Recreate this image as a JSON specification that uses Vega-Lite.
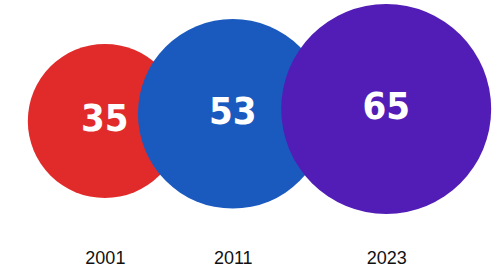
{
  "$schema": "https://vega.github.io/schema/vega-lite/v6.json",
  "width": 500,
  "height": 245,
  "autosize": {"type": "none"},
  "padding": {"top": 0, "left": 0, "right": 0, "bottom": 30},
  "background": "white",
  "config": {"view": {"stroke": null}},
  "data": {"values": [
    {"year": 2001, "value": 35, "color": "red"},
    {"year": 2011, "value": 53, "color": "blue"},
    {"year": 2023, "value": 65, "color": "purple"}
  ]},
  "encoding": {
    "x": {"field": "year", "type": "quantitative",
      "scale": {"domain": [1992.8, 2031.9], "zero": false, "nice": false},
      "axis": {"values": [2001, 2011, 2023], "format": "d", "title": null, "domain": false, "ticks": false, "grid": false,
        "labelFont": "Liberation Sans", "labelFontSize": 18, "labelColor": "#111111", "labelPadding": 4}},
    "y": {"field": "value", "type": "quantitative",
      "scale": {"domain": [-275, 337.5], "zero": false, "nice": false},
      "axis": null}
  },
  "layer": [
    {
      "mark": {"type": "circle", "opacity": 1},
      "encoding": {
        "size": {"field": "value", "type": "quantitative", "scale": {"domain": [0, 65], "range": [0, 44100], "zero": true}, "legend": null},
        "color": {"field": "color", "type": "nominal", "scale": {"domain": ["red", "blue", "purple"], "range": ["#E12B2B", "#1A5ABF", "#521DB6"]}, "legend": null}
      }
    },
    {
      "mark": {"type": "text", "font": "DejaVu Sans Condensed, Roboto", "fontWeight": "bold", "fontSize": 38, "color": "white", "baseline": "middle", "align": "center", "dy": -1},
      "encoding": {"text": {"field": "value", "type": "quantitative"}}
    }
  ]
}
